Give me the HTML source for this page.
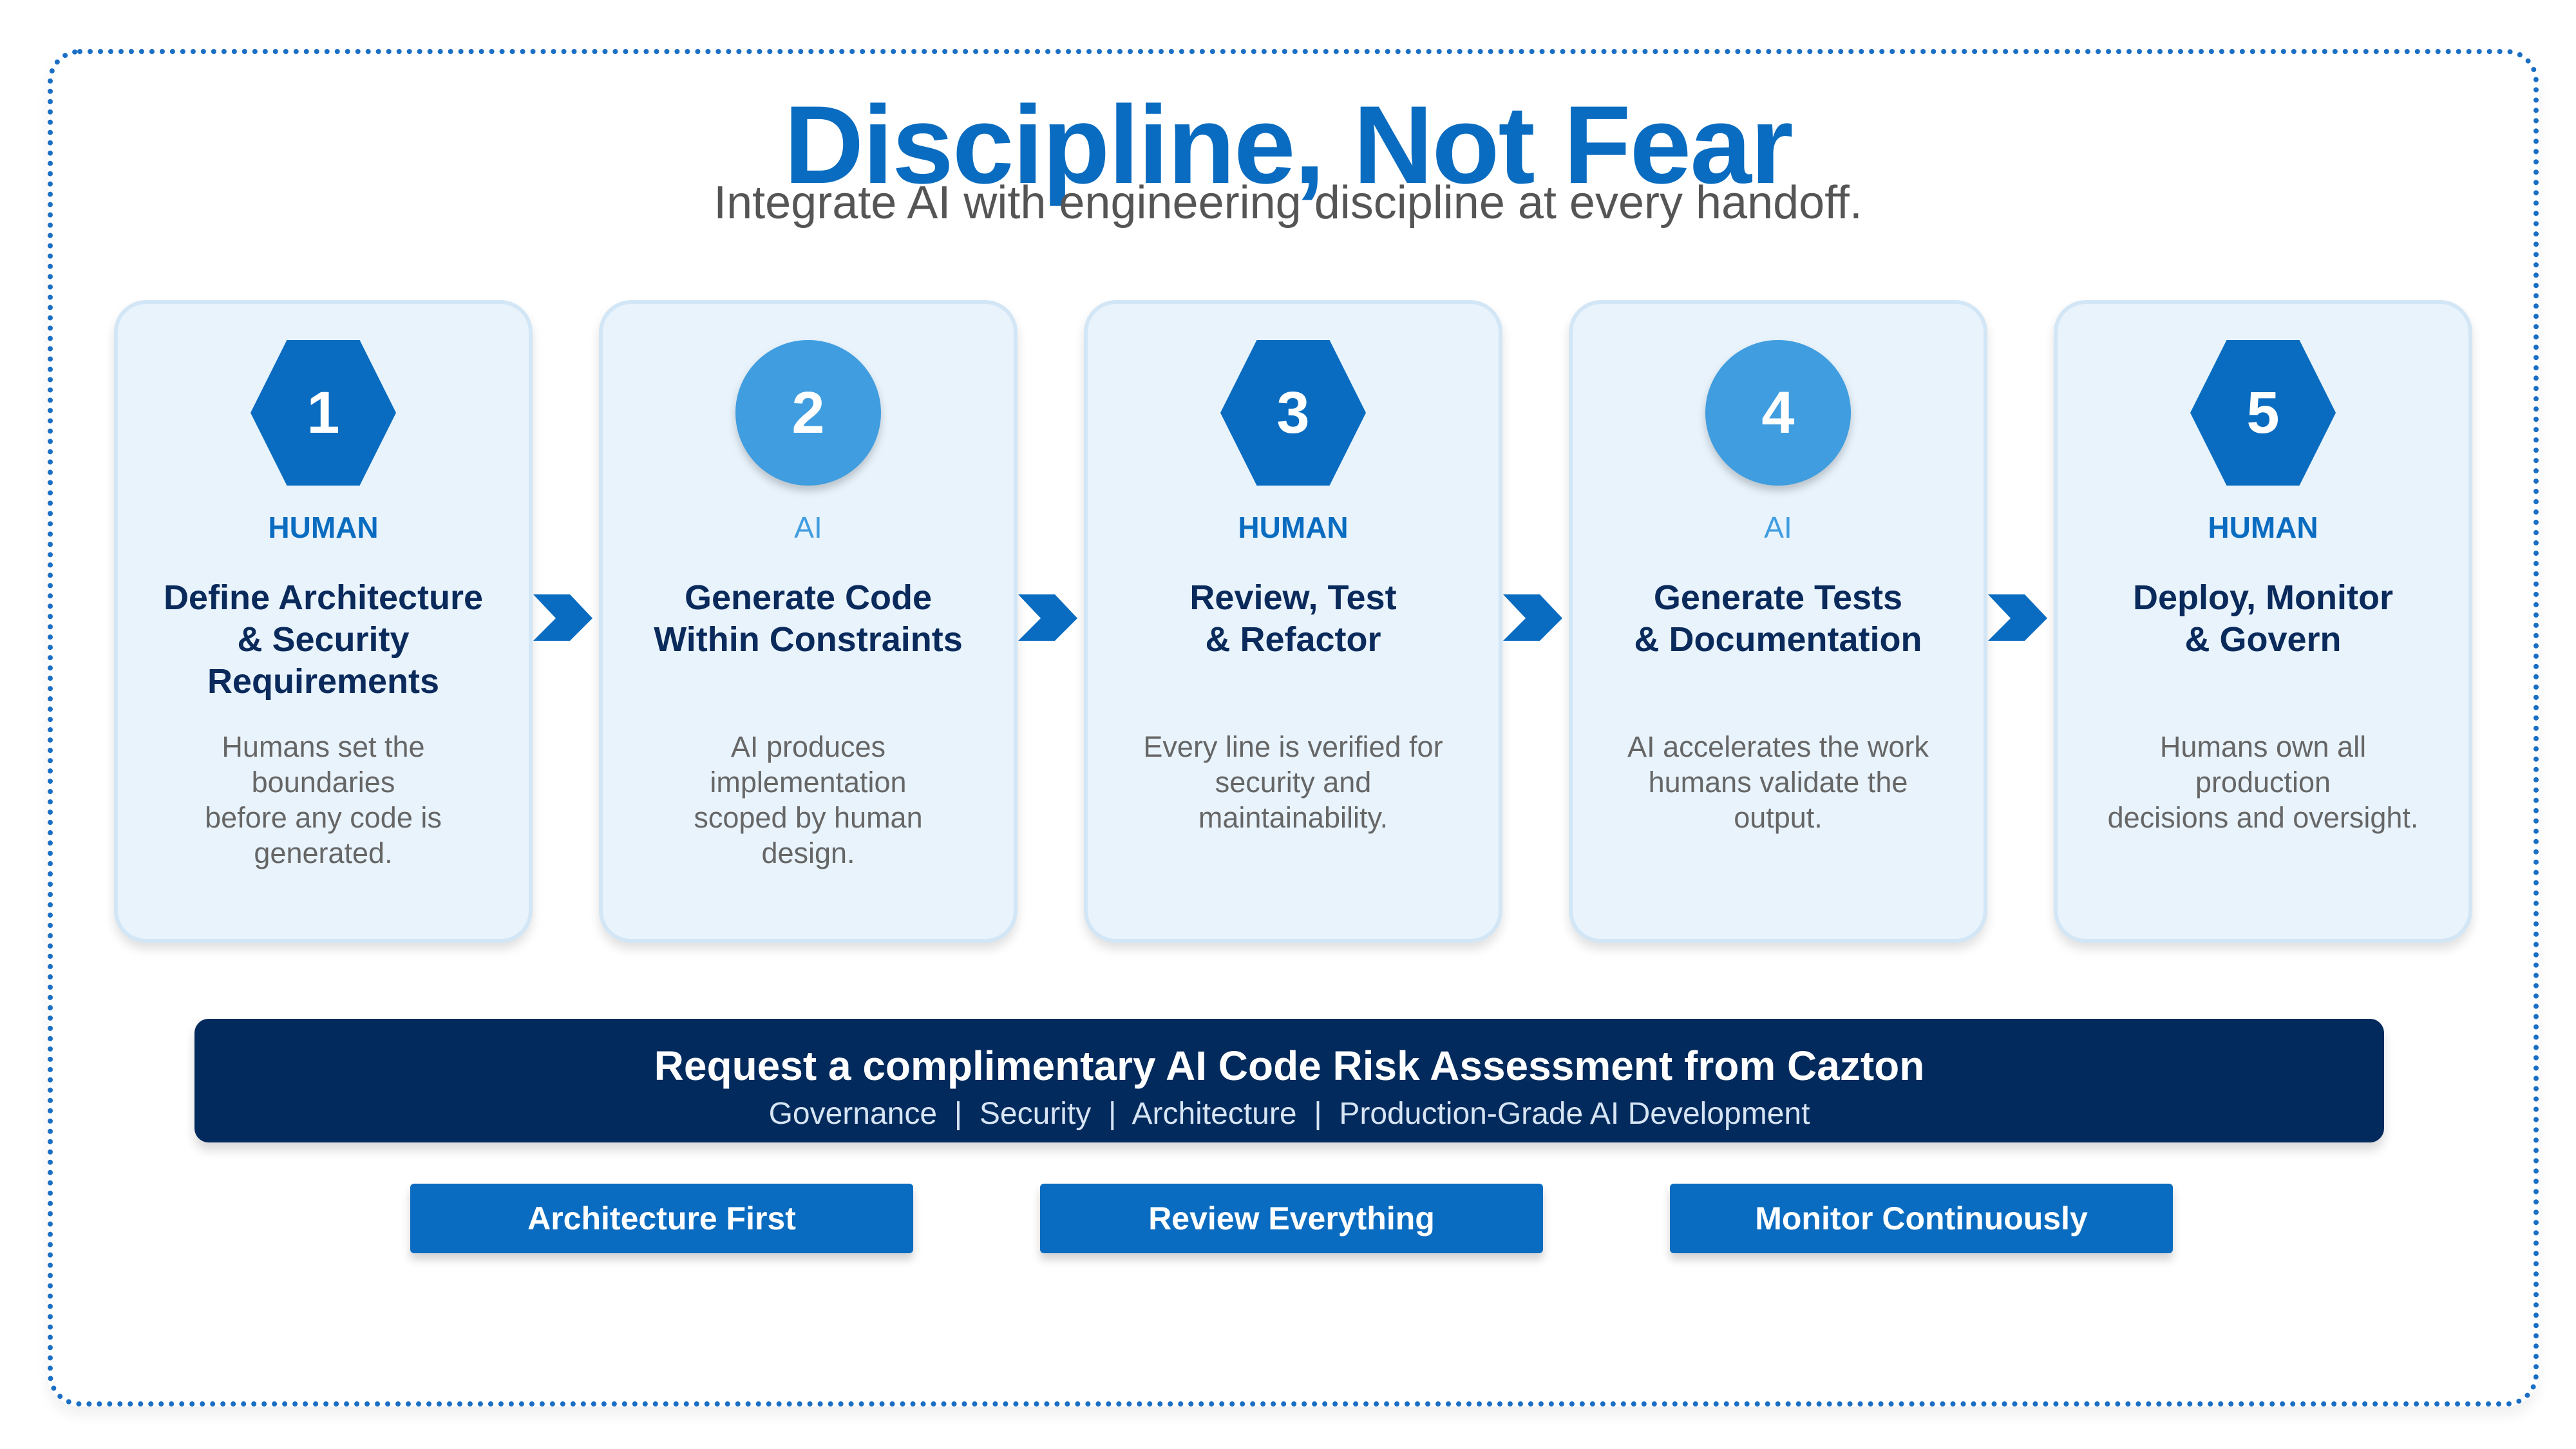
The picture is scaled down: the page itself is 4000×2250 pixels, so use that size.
<!DOCTYPE html>
<html><head><meta charset="utf-8"><style>
*{margin:0;padding:0;box-sizing:border-box}
body{width:4000px;height:2250px;background:#fff;position:relative;overflow:hidden;font-family:"Liberation Sans",sans-serif}
.frame{position:absolute;left:74px;top:76px;width:3868px;height:2108px;border:8px dotted #1a6fc4;border-radius:50px;box-shadow:0 14px 20px rgba(0,0,0,0.06)}
.title{position:absolute;left:0;width:4000px;top:126px;text-align:center;font-size:172px;font-weight:bold;color:#0a6cc0;letter-spacing:-2px}
.sub{position:absolute;left:0;width:4000px;top:274px;text-align:center;font-size:72px;color:#555}
.card{position:absolute;top:466px;width:650px;height:998px;background:#e8f3fc;border:6px solid #d2e6f6;border-radius:50px;box-shadow:0 10px 16px rgba(0,0,0,0.12)}
.badge{position:absolute;left:50%;top:56px;width:226px;height:226px;margin-left:-113px;display:flex;align-items:center;justify-content:center;color:#fff;font-size:92px;font-weight:bold;filter:drop-shadow(0 8px 6px rgba(0,0,0,0.2))}
.hex{background:#0a6cc0;clip-path:polygon(25% 0,75% 0,100% 50%,75% 100%,25% 100%,0 50%)}
.circ{background:#3f9de0;border-radius:50%}
.role{position:absolute;left:0;width:100%;top:320px;text-align:center;font-size:46px;font-weight:bold;color:#0a6cc0}
.role.ai{color:#3f9de0;font-weight:normal}
.ct{position:absolute;left:0;width:100%;top:424px;text-align:center;font-size:54px;font-weight:bold;color:#0b2a5c;line-height:65px}
.cd{position:absolute;left:30px;right:30px;top:660px;text-align:center;font-size:45px;color:#666;line-height:55px}
.chev{position:absolute;top:923px;width:92px;height:72px}
.banner{position:absolute;left:302px;top:1582px;width:3400px;height:192px;background:#022a5c;border-radius:22px;box-shadow:0 12px 16px rgba(0,0,0,0.15);color:#fff;text-align:center}
.banner .a{position:absolute;top:36px;width:100%;font-size:64px;font-weight:bold}
.banner .b{position:absolute;top:120px;width:100%;font-size:48px;color:#d6e4f3}
.btn{position:absolute;top:1838px;width:781px;height:108px;background:#0a6cc0;border-radius:6px;box-shadow:0 10px 14px rgba(0,0,0,0.18);color:#fff;font-size:50px;font-weight:bold;display:flex;align-items:center;justify-content:center}
</style></head><body>
<div class="frame"></div>
<div class="title">Discipline, Not Fear</div>
<div class="sub">Integrate AI with engineering discipline at every handoff.</div>

<div class="card" style="left:177px"><div class="badge hex">1</div><div class="role">HUMAN</div><div class="ct">Define Architecture<br>&amp; Security<br>Requirements</div><div class="cd">Humans set the<br>boundaries<br>before any code is<br>generated.</div></div>
<div class="card" style="left:930px"><div class="badge circ">2</div><div class="role ai">AI</div><div class="ct">Generate Code<br>Within Constraints</div><div class="cd">AI produces<br>implementation<br>scoped by human<br>design.</div></div>
<div class="card" style="left:1683px"><div class="badge hex">3</div><div class="role">HUMAN</div><div class="ct">Review, Test<br>&amp; Refactor</div><div class="cd">Every line is verified for<br>security and<br>maintainability.</div></div>
<div class="card" style="left:2436px"><div class="badge circ">4</div><div class="role ai">AI</div><div class="ct">Generate Tests<br>&amp; Documentation</div><div class="cd">AI accelerates the work<br>humans validate the<br>output.</div></div>
<div class="card" style="left:3189px"><div class="badge hex">5</div><div class="role">HUMAN</div><div class="ct">Deploy, Monitor<br>&amp; Govern</div><div class="cd">Humans own all<br>production<br>decisions and oversight.</div></div>

<svg class="chev" style="left:828px" viewBox="0 0 92 72"><polygon points="0,0 57,0 92,37 57,72 0,72 35,37" fill="#0a6cc0"/></svg>
<svg class="chev" style="left:1581px" viewBox="0 0 92 72"><polygon points="0,0 57,0 92,37 57,72 0,72 35,37" fill="#0a6cc0"/></svg>
<svg class="chev" style="left:2334px" viewBox="0 0 92 72"><polygon points="0,0 57,0 92,37 57,72 0,72 35,37" fill="#0a6cc0"/></svg>
<svg class="chev" style="left:3087px" viewBox="0 0 92 72"><polygon points="0,0 57,0 92,37 57,72 0,72 35,37" fill="#0a6cc0"/></svg>

<div class="banner"><div class="a">Request a complimentary AI Code Risk Assessment from Cazton</div><div class="b">Governance &nbsp;|&nbsp; Security &nbsp;|&nbsp; Architecture &nbsp;|&nbsp; Production-Grade AI Development</div></div>

<div class="btn" style="left:637px">Architecture First</div>
<div class="btn" style="left:1615px">Review Everything</div>
<div class="btn" style="left:2593px">Monitor Continuously</div>
</body></html>
